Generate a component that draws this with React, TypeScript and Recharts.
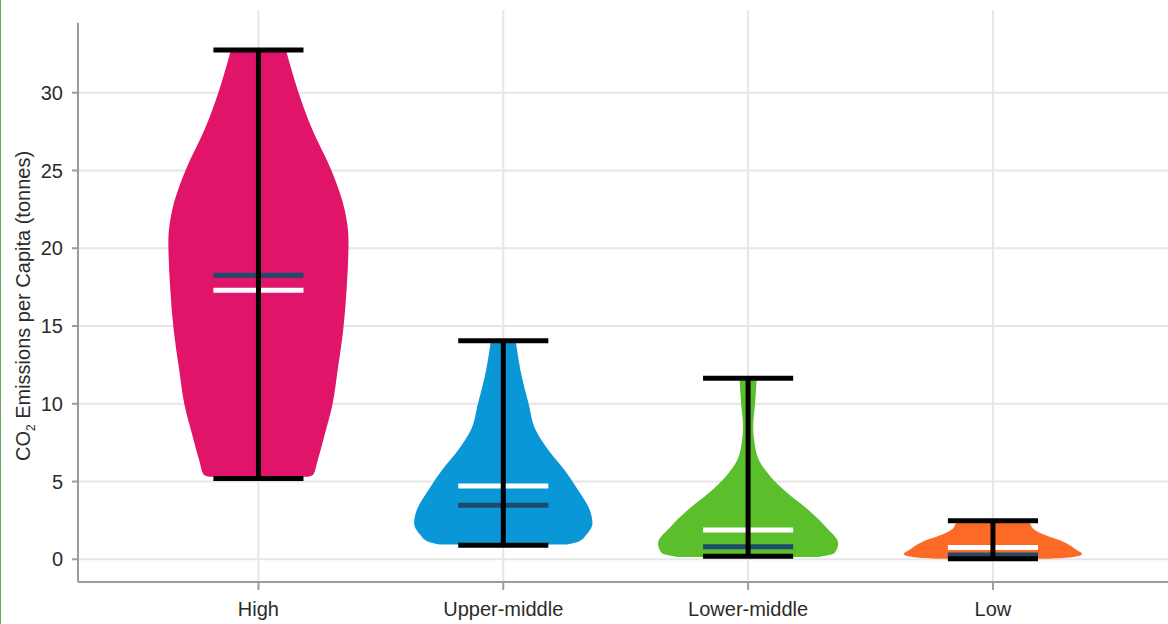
import {
  ComposedChart,
  Area,
  XAxis,
  YAxis,
  CartesianGrid,
  ReferenceLine,
} from "recharts";

const CATEGORIES = ["High", "Upper-middle", "Lower-middle", "Low"];
const COLORS = ["#e0156a", "#0a97d8", "#5abf2b", "#fd6a26"];

// violin outlines: emission value (tonnes) and relative width at that value (1 = widest)
const HIGH_VALUES = [5.3, 5.45, 6.2, 7.9, 9.9, 12.2, 14.7, 17.5, 20.5, 22.4, 25.0, 27.6, 30.1, 32.65];
const HIGH_WIDTHS = [0.55, 0.61, 0.65, 0.73, 0.82, 0.88, 0.94, 0.98, 1.0, 0.96, 0.81, 0.6, 0.44, 0.31];

const UPPER_VALUES = [0.95, 1.15, 1.56, 2.31, 3.17, 4.46, 5.74, 7.03, 8.31, 10.03, 12.17, 13.95];
const UPPER_WIDTHS = [0.71, 0.84, 0.92, 0.99, 0.96, 0.83, 0.68, 0.5, 0.36, 0.28, 0.19, 0.14];

const LOWER_VALUES = [0.15, 0.4, 1.03, 2.1, 3.17, 4.24, 5.31, 6.38, 7.67, 8.53, 10.03, 11.5];
const LOWER_WIDTHS = [0.78, 0.96, 1.0, 0.86, 0.67, 0.44, 0.25, 0.12, 0.067, 0.056, 0.078, 0.094];

const LOW_VALUES = [0.04, 0.13, 0.34, 0.6, 1.13, 1.67, 2.0, 2.3, 2.42];
const LOW_WIDTHS = [0.62, 0.88, 0.99, 0.93, 0.78, 0.53, 0.44, 0.41, 0.36];

// whisker ends and summary lines per income group
const WHISKER_MIN = [5.2, 0.9, 0.2, 0.03];
const WHISKER_MAX = [32.75, 14.06, 11.64, 2.48];
const MEANS = [17.3, 4.71, 1.88, 0.76];
const MEDIANS = [18.26, 3.47, 0.81, 0.28];

const Y_TICKS = [0, 5, 10, 15, 20, 25, 30];
const X_TICKS = [0, 1, 2, 3];

const X_DOMAIN: [number, number] = [-0.737, 3.715];
const Y_DOMAIN: [number, number] = [-1.46, 35.32];
const HALF_WIDTH = 0.368; // widest half-violin, in category units
const CAP = 0.184;

const FONT = '"Liberation Sans", Arial, Helvetica, sans-serif';
const AXIS_GREY = "#9a9ca0";
const MEDIAN_BLUE = "#1e4b6c";

const outlines = [
  [HIGH_VALUES, HIGH_WIDTHS],
  [UPPER_VALUES, UPPER_WIDTHS],
  [LOWER_VALUES, LOWER_WIDTHS],
  [LOW_VALUES, LOW_WIDTHS],
];

const violins = outlines.map(([values, widths], i) =>
  values.map((v, k) => ({
    v,
    span: [i - widths[k] * HALF_WIDTH, i + widths[k] * HALF_WIDTH],
  }))
);

function YLabel() {
  return (
    <text
      x={29.5}
      y={306}
      transform="rotate(-90 29.5 306)"
      textAnchor="middle"
      fontSize={20}
      fill="#2b2b2b"
      fontFamily={FONT}
    >
      CO
      <tspan fontSize={12} dy={5}>2</tspan>
      <tspan dy={-5}> Emissions per Capita (tonnes)</tspan>
    </text>
  );
}

function hLine(i: number, y: number, color: string) {
  return (
    <ReferenceLine
      key={`${color}-${i}-${y}`}
      segment={[
        { x: i - CAP, y },
        { x: i + CAP, y },
      ]}
      stroke={color}
      strokeWidth={5}
    />
  );
}

export default function App() {
  return (
    <div style={{ position: "absolute", left: 0, top: 0, width: 1168, height: 624, background: "#fff" }}>
      <div style={{ position: "absolute", left: 0, top: 0, width: 1, height: 624, background: "#6aa66c" }} />
      <ComposedChart
        width={1168}
        height={624}
        layout="vertical"
        margin={{ top: 10, right: 0, bottom: 0, left: 0 }}
      >
        <CartesianGrid
          stroke="#e6e6e6"
          strokeWidth={2}
          horizontalValues={Y_TICKS}
          verticalValues={X_TICKS}
        />
        <XAxis
          type="number"
          domain={X_DOMAIN}
          allowDataOverflow
          ticks={X_TICKS}
          interval={0}
          tickFormatter={(i: number) => CATEGORIES[i] ?? ""}
          height={42}
          tickSize={8}
          tickMargin={12}
          axisLine={{ stroke: AXIS_GREY, strokeWidth: 2 }}
          tickLine={{ stroke: AXIS_GREY, strokeWidth: 2 }}
          tick={{ fontSize: 20, fill: "#2b2b2b", fontFamily: FONT }}
        />
        <YAxis
          type="number"
          dataKey="v"
          domain={Y_DOMAIN}
          allowDataOverflow
          reversed
          ticks={Y_TICKS}
          interval={0}
          width={78}
          tickSize={6}
          tickMargin={9}
          axisLine={false}
          tickLine={{ stroke: AXIS_GREY, strokeWidth: 2 }}
          tick={{ fontSize: 20, fill: "#2b2b2b", fontFamily: FONT }}
          label={{ content: () => <YLabel /> }}
        />
        {violins.map((points, i) => (
          <Area
            key={CATEGORIES[i]}
            data={points}
            dataKey="span"
            type="monotone"
            fill={COLORS[i]}
            fillOpacity={1}
            stroke="none"
            dot={false}
            activeDot={false}
            isAnimationActive={false}
          />
        ))}
        <ReferenceLine
          segment={[
            { x: X_DOMAIN[0], y: Y_DOMAIN[0] },
            { x: X_DOMAIN[0], y: 34.5 },
          ]}
          stroke={AXIS_GREY}
          strokeWidth={2}
        />
        {MEANS.map((m, i) => hLine(i, m, "#ffffff"))}
        {MEDIANS.map((m, i) => hLine(i, m, MEDIAN_BLUE))}
        {CATEGORIES.map((c, i) => (
          <ReferenceLine
            key={`whisker-${c}`}
            segment={[
              { x: i, y: WHISKER_MIN[i] },
              { x: i, y: WHISKER_MAX[i] },
            ]}
            stroke="#000"
            strokeWidth={5}
          />
        ))}
        {WHISKER_MIN.map((m, i) => hLine(i, m, "#000000"))}
        {WHISKER_MAX.map((m, i) => hLine(i, m, "#000000"))}
      </ComposedChart>
    </div>
  );
}
